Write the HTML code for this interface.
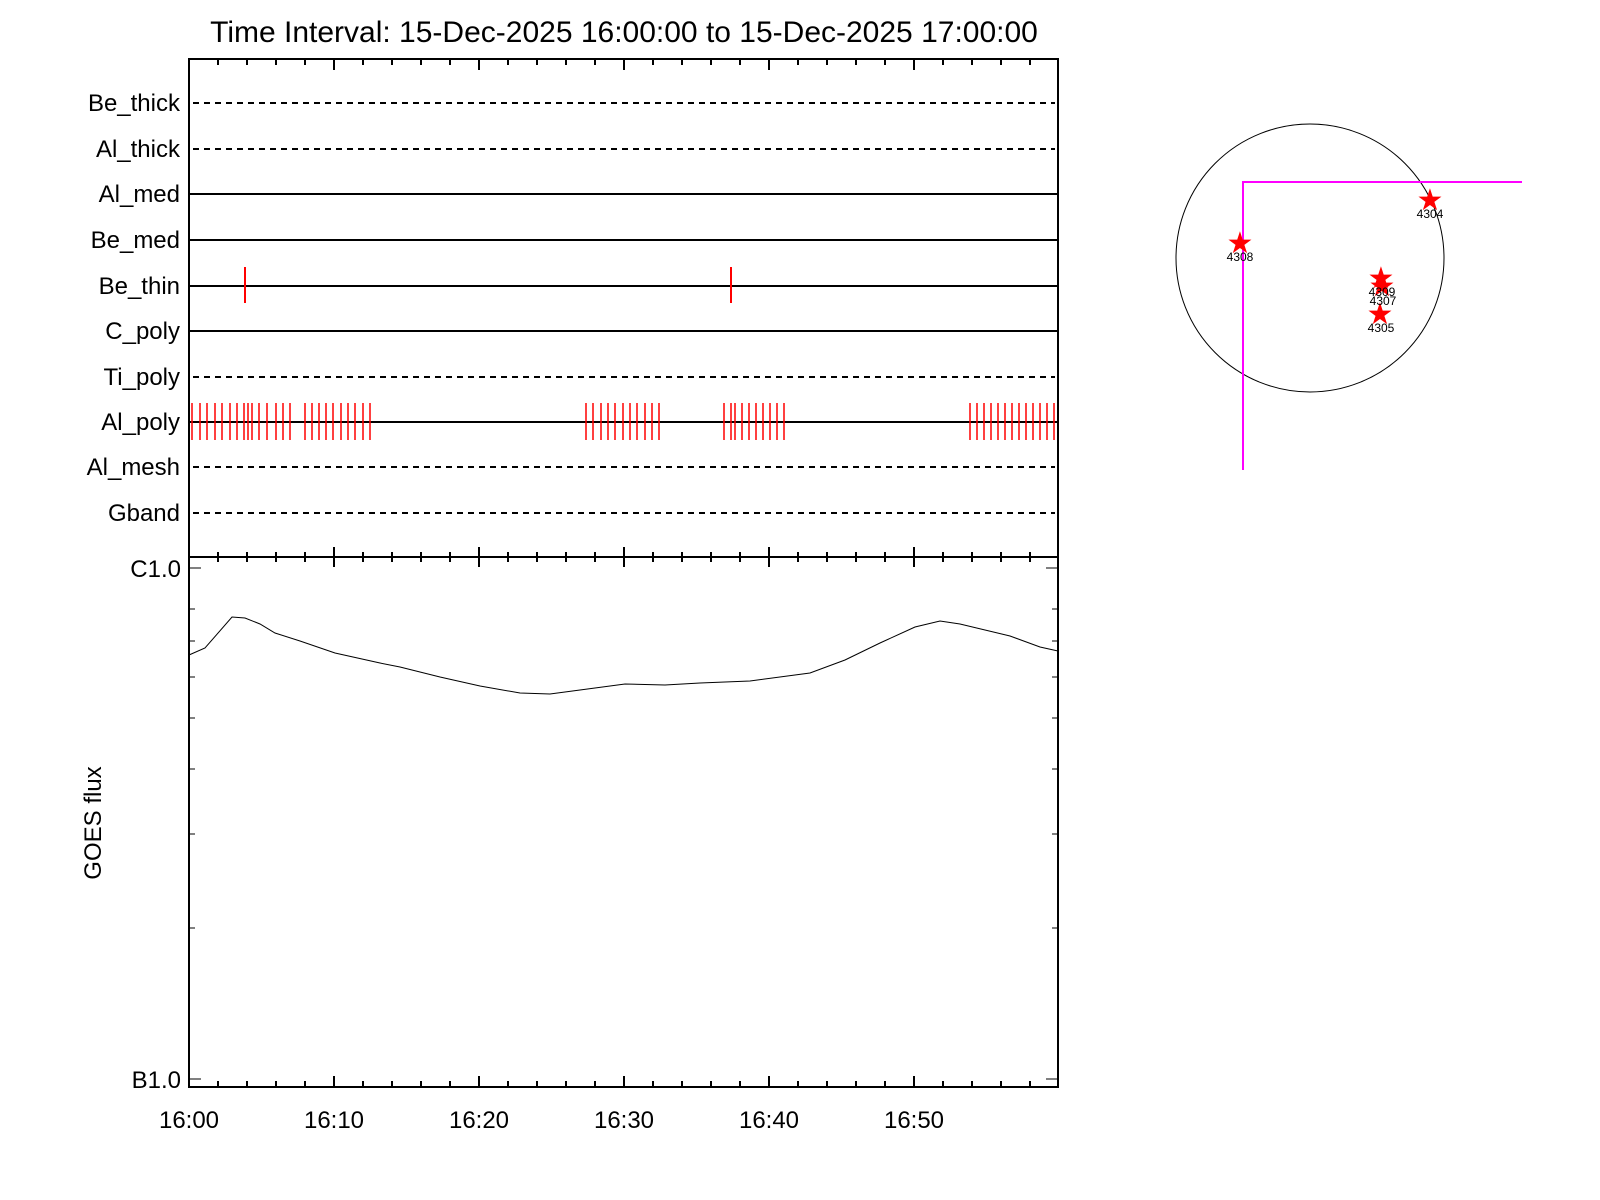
<!DOCTYPE html>
<html><head><meta charset="utf-8"><style>body{margin:0;background:#fff}svg{display:block}</style></head><body>
<svg width="1600" height="1200" xmlns="http://www.w3.org/2000/svg" font-family="Liberation Sans, sans-serif">
<rect width="1600" height="1200" fill="#fff"/>
<text x="624" y="42" font-size="30" text-anchor="middle">Time Interval: 15-Dec-2025 16:00:00 to 15-Dec-2025 17:00:00</text>
<g font-size="24" text-anchor="end">
<text x="180" y="111">Be_thick</text><text x="180" y="157">Al_thick</text><text x="180" y="202">Al_med</text>
<text x="180" y="248">Be_med</text><text x="180" y="294">Be_thin</text><text x="180" y="339">C_poly</text>
<text x="180" y="385">Ti_poly</text><text x="180" y="430">Al_poly</text><text x="180" y="475">Al_mesh</text>
<text x="180" y="521">Gband</text></g>
<g stroke="#000" stroke-width="2">
<line x1="193" y1="103" x2="1055" y2="103" stroke-dasharray="6,5"/>
<line x1="193" y1="149" x2="1055" y2="149" stroke-dasharray="6,5"/>
<line x1="189" y1="194" x2="1058" y2="194"/><line x1="189" y1="240" x2="1058" y2="240"/>
<line x1="189" y1="286" x2="1058" y2="286"/><line x1="189" y1="331" x2="1058" y2="331"/>
<line x1="193" y1="377" x2="1055" y2="377" stroke-dasharray="6,5"/>
<line x1="189" y1="422" x2="1058" y2="422"/>
<line x1="193" y1="467" x2="1055" y2="467" stroke-dasharray="6,5"/>
<line x1="193" y1="513" x2="1055" y2="513" stroke-dasharray="6,5"/>
</g>
<g stroke="red" stroke-width="2">
<line x1="245" y1="267" x2="245" y2="303"/><line x1="731" y1="267" x2="731" y2="303"/>
</g>
<g stroke="red" stroke-width="1.5">
<path d="M192 403v37M200 403v37M207 403v37M215 403v37M222 403v37M230 403v37M237 403v37M244 403v37M248 403v37M252 403v37M259 403v37M267 403v37M276 403v37M283 403v37M290 403v37M305 403v37M312 403v37M319 403v37M326 403v37M333 403v37M341 403v37M348 403v37M355 403v37M363 403v37M370 403v37
M586 403v37M593 403v37M601 403v37M608 403v37M615 403v37M623 403v37M630 403v37M637 403v37M645 403v37M652 403v37M659 403v37
M724 403v37M731 403v37M735 403v37M742 403v37M749 403v37M756 403v37M763 403v37M770 403v37M777 403v37M784 403v37
M970 403v37M977 403v37M984 403v37M991 403v37M998 403v37M1005 403v37M1012 403v37M1019 403v37M1026 403v37M1033 403v37M1040 403v37M1047 403v37M1054 403v37"/>
</g>
<g stroke="#000" stroke-width="2" fill="none">
<rect x="189" y="59" width="869" height="1028"/>
<line x1="189" y1="557" x2="1058" y2="557"/>
</g>
<g stroke="#000" stroke-width="2">
<path d="M218 59v6M247 59v6M276 59v6M305 59v6M363 59v6M392 59v6M421 59v6M450 59v6M508 59v6M537 59v6M566 59v6M595 59v6M653 59v6M682 59v6M711 59v6M740 59v6M798 59v6M827 59v6M856 59v6M885 59v6M943 59v6M972 59v6M1001 59v6M1030 59v6M334 59v11M479 59v11M624 59v11M769 59v11M914 59v11"/>
<path d="M218 552v10M247 552v10M276 552v10M305 552v10M363 552v10M392 552v10M421 552v10M450 552v10M508 552v10M537 552v10M566 552v10M595 552v10M653 552v10M682 552v10M711 552v10M740 552v10M798 552v10M827 552v10M856 552v10M885 552v10M943 552v10M972 552v10M1001 552v10M1030 552v10M334 547v20M479 547v20M624 547v20M769 547v20M914 547v20M189 547v20"/>
<path d="M218 1087v-6M247 1087v-6M276 1087v-6M305 1087v-6M363 1087v-6M392 1087v-6M421 1087v-6M450 1087v-6M508 1087v-6M537 1087v-6M566 1087v-6M595 1087v-6M653 1087v-6M682 1087v-6M711 1087v-6M740 1087v-6M798 1087v-6M827 1087v-6M856 1087v-6M885 1087v-6M943 1087v-6M972 1087v-6M1001 1087v-6M1030 1087v-6M334 1087v-11M479 1087v-11M624 1087v-11M769 1087v-11M914 1087v-11"/>
</g>
<g stroke="#000" stroke-width="1">
<path d="M189 568h12M189 1079h12M1058 568h-12M1058 1079h-12M189 609h6M189 641h6M189 677h6M189 718h6M189 769h6M189 834h6M189 928h6M1058 609h-6M1058 641h-6M1058 677h-6M1058 718h-6M1058 769h-6M1058 834h-6M1058 928h-6"/>
</g>
<polyline fill="none" stroke="#000" stroke-width="1" points="189,655 205,648 232,617 245,618 260,624 275,633 300,641 335,653 380,663 400,667 440,677 480,686 520,693 550,694 580,690 625,684 665,685 700,683 750,681 810,673 845,660 880,643 915,627 940,621 960,624 1010,636 1040,647 1058,651"/>
<g font-size="24"><text x="181" y="577" text-anchor="end">C1.0</text><text x="181" y="1088" text-anchor="end">B1.0</text>
<text x="189" y="1128" text-anchor="middle">16:00</text><text x="334" y="1128" text-anchor="middle">16:10</text><text x="479" y="1128" text-anchor="middle">16:20</text><text x="624" y="1128" text-anchor="middle">16:30</text><text x="769" y="1128" text-anchor="middle">16:40</text><text x="914" y="1128" text-anchor="middle">16:50</text>
<text transform="translate(101,823) rotate(-90)" text-anchor="middle">GOES flux</text></g>
<circle cx="1310" cy="258" r="134" fill="none" stroke="#000" stroke-width="1"/>
<path d="M1243 470V182H1522" fill="none" stroke="#f0f" stroke-width="2"/>
<g fill="red" font-size="30" text-anchor="middle">
<text x="1430" y="210">★</text><text x="1240" y="253">★</text>
<text x="1381" y="288">★</text><text x="1382" y="296">★</text><text x="1380" y="324">★</text></g>
<g font-size="12" text-anchor="middle"><text x="1430" y="218">4304</text><text x="1240" y="261">4308</text><text x="1382" y="296">4309</text><text x="1383" y="305">4307</text><text x="1381" y="332">4305</text></g>
</svg>
</body></html>
